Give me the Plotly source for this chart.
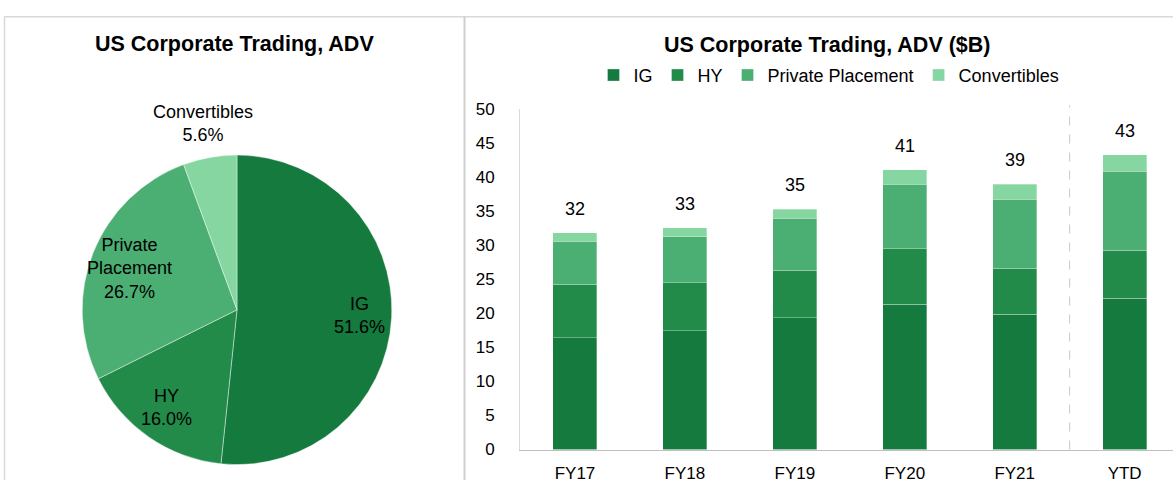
import math
import plotly.graph_objects as go

# ---- data ----
categories = ["FY17", "FY18", "FY19", "FY20", "FY21", "YTD"]
ig = [16.4, 17.45, 19.35, 21.3, 19.85, 22.2]
hy = [7.85, 7.05, 7.0, 8.2, 6.8, 7.05]
private_placement = [6.3, 6.75, 7.6, 9.45, 10.1, 11.6]
convertibles = [1.25, 1.3, 1.35, 2.1, 2.2, 2.45]
series_names = ["IG", "HY", "Private Placement", "Convertibles"]

pie_labels = ["IG", "HY", "Private<br>Placement", "Convertibles"]
pie_share = [51.6, 16.0, 26.7, 5.6]
pie_label_radius = [0.76, 0.77, 0.72, 1.22]   # label distance as a fraction of the radius

y_ticks = [0, 5, 10, 15, 20, 25, 30, 35, 40, 45, 50]

colors = ["#157A3D", "#238B4A", "#4BAE72", "#86D6A2"]
FONT = "Liberation Sans, Arial, sans-serif"
W, H = 1173, 490

fig = go.Figure()

# ---- pie ----
pie_x = [76 / W, 398 / W]
pie_y = [1 - 474 / H, 1 - 152 / H]
fig.add_trace(go.Pie(
    labels=series_names,
    values=pie_share,
    textinfo="none",
    marker=dict(colors=colors, line=dict(color="rgba(255,255,255,0.6)", width=0.7)),
    sort=False,
    direction="clockwise",
    rotation=0,
    showlegend=False,
    hoverinfo="label+value",
    domain=dict(x=pie_x, y=pie_y),
))

# pie labels placed at each slice's mid-angle
cx_px = (pie_x[0] + pie_x[1]) / 2 * W
cy_px = (1 - (pie_y[0] + pie_y[1]) / 2) * H
r_px = (pie_x[1] - pie_x[0]) * W / 2
total_share = sum(pie_share)
cum = 0.0
for lab, v, rf in zip(pie_labels, pie_share, pie_label_radius):
    mid = (cum + v / 2) / total_share * 2 * math.pi
    cum += v
    px = cx_px + rf * r_px * math.sin(mid)
    py = cy_px - rf * r_px * math.cos(mid)
    fig.add_annotation(x=px / W, y=1 - py / H, xref="paper", yref="paper",
                       text=f"{lab}<br>{v:.1f}%", showarrow=False,
                       xanchor="center", yanchor="middle", align="center",
                       font=dict(family=FONT, size=18, color="#000000"))

# ---- stacked bars ----
for name, vals, col in zip(series_names, [ig, hy, private_placement, convertibles], colors):
    fig.add_trace(go.Bar(
        x=categories, y=vals, name=name,
        marker=dict(color=col, line=dict(color="rgba(255,255,255,0.45)", width=0.7)),
        width=0.4,
    ))

totals = [a + b + c + d for a, b, c, d in zip(ig, hy, private_placement, convertibles)]
for cat, tot in zip(categories, totals):
    fig.add_annotation(x=cat, y=tot, xref="x", yref="y", text=f"{round(tot):d}",
                       showarrow=False, yshift=24, yanchor="middle",
                       font=dict(family=FONT, size=18, color="#000000"))

# titles
fig.add_annotation(x=234 / W, y=1 - 36 / H, xref="paper", yref="paper",
                   text="<b>US Corporate Trading, ADV</b>", showarrow=False,
                   xanchor="center", yanchor="middle",
                   font=dict(family=FONT, size=21.5, color="#000000"))
fig.add_annotation(x=827 / W, y=1 - 37 / H, xref="paper", yref="paper",
                   text="<b>US Corporate Trading, ADV ($B)</b>", showarrow=False,
                   xanchor="center", yanchor="middle",
                   font=dict(family=FONT, size=21.5, color="#000000"))

# panel borders
border = "#D9D9D9"
fig.add_shape(type="line", xref="paper", yref="paper", x0=4 / W, x1=1, y0=1 - 8 / H, y1=1 - 8 / H,
              line=dict(color=border, width=1.5))
fig.add_shape(type="line", xref="paper", yref="paper", x0=4.5 / W, x1=4.5 / W, y0=0, y1=1 - 8 / H,
              line=dict(color=border, width=1.5))
fig.add_shape(type="line", xref="paper", yref="paper", x0=464.5 / W, x1=464.5 / W, y0=0, y1=1 - 8 / H,
              line=dict(color="#CFCFCF", width=2))

# dashed separator before YTD
fig.add_shape(type="line", xref="x", yref="paper", x0=4.5, x1=4.5,
              y0=1 - 458.3 / H, y1=1 - 100 / H,
              line=dict(color="#C8C8C8", width=1, dash="dash"))

fig.update_layout(
    width=W, height=H,
    margin=dict(l=0, r=0, t=0, b=0),
    paper_bgcolor="#FFFFFF", plot_bgcolor="#FFFFFF",
    font=dict(family=FONT, size=17, color="#000000"),
    barmode="stack",
    legend=dict(orientation="h", x=829 / W, xanchor="center", y=1 - 69 / H, yanchor="middle",
                font=dict(family=FONT, size=18, color="#000000"), traceorder="normal",
                itemwidth=30, bgcolor="rgba(0,0,0,0)"),
    xaxis=dict(domain=[520 / W, 1], range=[-0.5, 5.44], showline=True, linecolor="#BFBFBF",
               linewidth=1, showgrid=False, zeroline=False, ticks="", ticklabelstandoff=8,
               tickfont=dict(family=FONT, size=17, color="#000000"), fixedrange=True),
    yaxis=dict(domain=[1 - 458.3 / H, 1 - 104 / H], range=[0, 50], tickvals=y_ticks,
               showline=True, linecolor="#D9D9D9", linewidth=1, showgrid=False,
               zeroline=False, ticks="", ticklabelstandoff=21,
               tickfont=dict(family=FONT, size=17, color="#000000"), fixedrange=True),
)

fig.write_html("out.html", config={"displayModeBar": False},
               post_script="document.body.style.margin='0';document.body.style.overflow='hidden';")
